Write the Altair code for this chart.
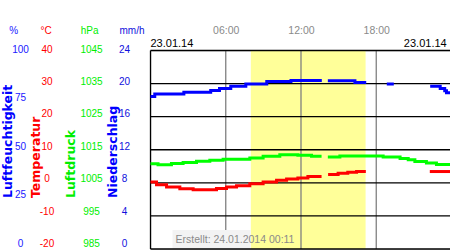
import altair as alt
import pandas as pd

# ---------------- data (hours of 23.01.14) ----------------
hour_ticks = [6, 12, 18]
daylight_start = [8.0]
daylight_end = [17.15]

# relative humidity (%)
hum_seg = [1] * 10 + [2] * 3 + [3] * 2 + [4] * 5
hum_t = [0, 0.34, 2.66, 4.8, 5.5, 6.4, 7.6, 9.27, 11.2, 13.66,
         14.14, 16.3, 17.2,
         18.84, 19.4,
         22.3, 23.1, 23.46, 23.6, 24.0]
hum_v = [75.6, 76.8, 77.8, 78.7, 79.7, 80.8, 82.0, 83.3, 83.8, 83.8,
         83.7, 82.8, 82.8,
         82.0, 82.0,
         80.8, 79.7, 78.5, 77.5, 77.5]

# air pressure (hPa)
pres_seg = [1] * 13 + [2] * 9
pres_t = [0, 0.6, 1.67, 2.6, 3.67, 4.73, 5.79, 7.92, 8.98, 10.31, 11.75, 12.84, 13.64,
          14.14, 15.1, 18.55, 19.9, 20.55, 21.08, 22.0, 22.8, 24.0]
pres_v = [1009.6, 1009.3, 1009.7, 1010.0, 1010.4, 1010.7, 1011.0, 1011.4, 1011.9, 1012.4,
          1012.2, 1011.9, 1011.9,
          1011.7, 1012.0, 1011.7, 1011.2, 1010.8, 1010.3, 1009.8, 1009.4, 1009.4]

# temperature (°C)
temp_seg = [1] * 15 + [2] * 5 + [3] * 2
temp_t = [0, 0.48, 1.28, 2.34, 3.4, 5.26, 6.06, 6.86, 7.92, 8.98, 10.05, 10.85, 11.75, 12.55, 13.64,
          14.16, 14.96, 15.73, 16.43, 17.17,
          22.27, 24.0]
temp_v = [-1.05, -1.85, -2.6, -3.1, -3.4, -3.0, -2.6, -2.15, -1.55, -1.05, -0.5, -0.1, 0.2, 0.7, 0.7,
          1.25, 1.65, 1.95, 2.2, 2.2,
          2.2, 2.2]

# axis tick labels
hum_ticks = [0, 25, 50, 75, 100]
temp_ticks = [-20, -10, 0, 10, 20, 30, 40]
pres_ticks = [985, 995, 1005, 1015, 1025, 1035, 1045]
rain_ticks = [0, 4, 8, 12, 16, 20, 24]
grid_levels = [0, 1, 2, 3, 4, 5, 6]

# ---------------- layout ----------------
W = 299.5          # visible plot width
XR = 301           # pixel range of the 24 h
H = 198.5
YR = [193, -1.5]
FONT = "Liberation Sans"

xs = alt.Scale(domain=[0, 24], range=[0, XR], nice=False, zero=False)
xaxis = alt.Axis(orient="top", values=hour_ticks,
                 labelExpr="datum.value < 10 ? '0' + datum.value + ':00' : datum.value + ':00'",
                 ticks=False, tickSize=0, domain=False, grid=False, labelColor="#8a8a8a",
                 labelFont=FONT, labelFontSize=10.5, labelPadding=20.5, labelBaseline="middle",
                 labelFlush=False, labelOverlap=False, title=None)


def lbl_axis(off, color, vals):
    return alt.Axis(orient="left", offset=off, values=vals, domain=False, ticks=False,
                    tickSize=0, grid=False, labelColor=color, labelFont=FONT,
                    labelFontSize=10, labelAlign="center", labelBaseline="middle",
                    labelPadding=0, labelOverlap=False, labelFlush=False,
                    labelBound=False, labelExpr="'' + datum.value", title=None)


def txt(s, x, y, color, size=10, weight="normal", align="center",
        baseline="middle", angle=0, font=FONT):
    return alt.Chart(pd.DataFrame({"s": [s]})).mark_text(
        color=color, fontSize=size, fontWeight=weight, align=align,
        baseline=baseline, angle=angle, font=font
    ).encode(x=alt.value(x), y=alt.value(y), text="s:N")


band = alt.Chart(pd.DataFrame({"a": daylight_start, "b": daylight_end})).mark_rect(
    color="#ffff99").encode(
    x=alt.X("a:Q", scale=xs, axis=xaxis), x2="b:Q",
    y=alt.value(0), y2=alt.value(H))

vrules = alt.Chart(pd.DataFrame({"t": hour_ticks})).mark_rule(
    color="#808080", strokeWidth=1.3).encode(
    x=alt.X("t:Q", scale=xs, axis=xaxis), y=alt.value(0), y2=alt.value(H))

stamp_bg = alt.Chart(pd.DataFrame({"a": [0]})).mark_rect(
    fill="#f3f3f3", strokeWidth=0).encode(
    x=alt.value(22), x2=alt.value(100), y=alt.value(179.5), y2=alt.value(H))

hrules = alt.Chart(pd.DataFrame({"g": grid_levels})).mark_rule(
    color="black", strokeWidth=1.3).encode(
    y=alt.Y("g:Q", scale=alt.Scale(domain=[0, 6], range=[H, 0], nice=False, zero=False), axis=None),
    x=alt.value(0), x2=alt.value(XR))

left_border = alt.Chart(pd.DataFrame({"a": [0]})).mark_rule(
    color="black", strokeWidth=1.3).encode(
    x=alt.value(0), y=alt.value(0), y2=alt.value(H))


def series(t, v, seg, color, dom, ticks, off, lcolor):
    df = pd.DataFrame({"t": t, "v": v, "seg": seg})
    return alt.Chart(df).mark_line(
        color=color, strokeWidth=3, interpolate="step-after", strokeCap="butt"
    ).encode(
        x=alt.X("t:Q", scale=xs, axis=xaxis),
        y=alt.Y("v:Q", scale=alt.Scale(domain=dom, range=YR, nice=False, zero=False),
                axis=lbl_axis(off, lcolor, ticks)),
        detail="seg:N")


green = series(pres_t, pres_v, pres_seg, "#00ff00", [985, 1045], pres_ticks, 59.5, "#00ee00")
red = series(temp_t, temp_v, temp_seg, "#ff0000", [-20, 40], temp_ticks, 104, "#ff0000")
blue = series(hum_t, hum_v, hum_seg, "#0000ff", [0, 100], hum_ticks, 130.5, "#2020ff")

rain_axis = alt.Chart(pd.DataFrame({"v": rain_ticks})).mark_point(opacity=0).encode(
    y=alt.Y("v:Q", scale=alt.Scale(domain=[0, 24], range=YR, nice=False, zero=False),
            axis=lbl_axis(26.5, "#1010dd", rain_ticks)))

TS = 12.5
texts = [
    txt("%", -136.7, -19.8, "#2020ff"),
    txt("°C", -104.5, -19.8, "#ff0000"),
    txt("hPa", -60.8, -19.8, "#00ee00"),
    txt("mm/h", -18.5, -19.8, "#1010dd"),
    txt("Luftfeuchtigkeit", -138.3, 147.5, "#0000ff", size=TS, weight="bold",
        align="left", baseline="alphabetic", angle=270, font="DejaVu Sans"),
    txt("Temperatur", -110.9, 147.5, "#ff0000", size=TS, weight="bold",
        align="left", baseline="alphabetic", angle=270, font="DejaVu Sans"),
    txt("Luftdruck", -75.1, 147.5, "#00ee00", size=TS, weight="bold",
        align="left", baseline="alphabetic", angle=270, font="DejaVu Sans"),
    txt("Niederschlag", -33.3, 147.5, "#0000ff", size=TS, weight="bold",
        align="left", baseline="alphabetic", angle=270, font="DejaVu Sans"),
    txt("23.01.14", 0, -6.5, "#000000", size=11, align="left"),
    txt("23.01.14", 296.2, -6.5, "#000000", size=11, align="right"),
    txt("Erstellt: 24.01.2014 00:11", 84.5, 189.5, "#8a8a8a", size=10.5),
]

chart = alt.layer(
    band, vrules, stamp_bg, hrules, left_border, green, red, blue, rain_axis, *texts
).resolve_scale(y="independent").properties(
    width=W, height=H,
    padding={"left": 150.5, "top": 50.5, "right": 0, "bottom": 1},
    autosize="none",
).configure_view(fill="#f3f3f3", stroke=None).configure(background="white")

chart.save("out.html", embed_options={"renderer": "svg", "actions": False})
